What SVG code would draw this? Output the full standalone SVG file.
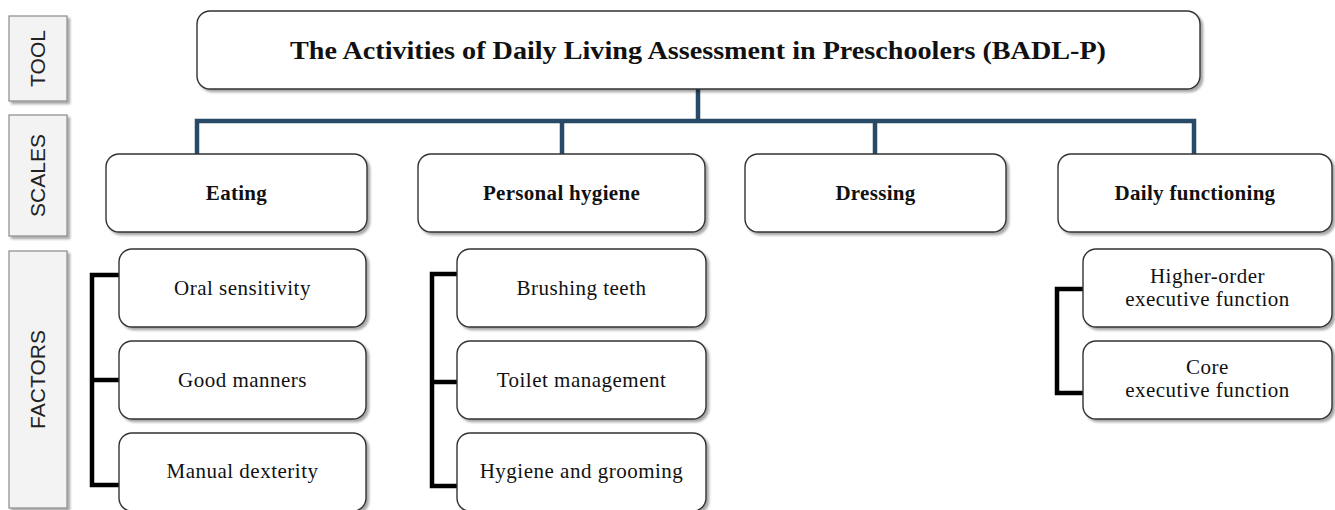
<svg xmlns="http://www.w3.org/2000/svg" width="1335" height="510" viewBox="0 0 1335 510">
<defs>
<filter id="sh" x="-5%" y="-5%" width="115%" height="120%">
<feDropShadow dx="2.5" dy="2.5" stdDeviation="1" flood-color="#000" flood-opacity="0.35"/>
</filter>
</defs>
<style>
.lab rect{fill:#f3f3f3;stroke:#8a8a8a;stroke-width:1.2;filter:url(#sh)}
.lab text{font-family:"Liberation Sans",Arial,sans-serif;font-size:21px;fill:#222;text-anchor:middle}
.box rect{fill:#fff;stroke:#333;stroke-width:1.4;filter:url(#sh)}
.box text{font-family:"Liberation Serif","Times New Roman",serif;fill:#111;text-anchor:middle}
.title text{font-size:26px;font-weight:bold}
.scale text{font-size:21px;font-weight:bold;letter-spacing:0.3px}
.factor text{font-size:21px;letter-spacing:0.5px}
.blue{fill:none;stroke:#284a66;stroke-width:4.5}
.blk{fill:none;stroke:#000;stroke-width:4.5}
</style>
<g id="labels" class="lab">
<g id="lab-tool"><rect x="9" y="16" width="58" height="85"/><text transform="translate(45 58.5) rotate(-90)">TOOL</text></g>
<g id="lab-scales"><rect x="9" y="115" width="58" height="121"/><text transform="translate(45 175.5) rotate(-90)">SCALES</text></g>
<g id="lab-factors"><rect x="9" y="251" width="58" height="257"/><text transform="translate(45 379.5) rotate(-90)">FACTORS</text></g>
</g>
<g id="connectors">
<path class="blue" d="M698 89V121M197 154V121H1194V154M562 121V154M875 121V154"/>
<path class="blk" d="M119 275H92V485H119M92 380H119"/>
<path class="blk" d="M457 274H432V486H457M432 382H457"/>
<path class="blk" d="M1083 289H1057V393H1083"/>
</g>
<g id="n-tool" class="box title"><rect x="197" y="11" width="1003" height="78" rx="13"/><text x="698" y="59" textLength="816" lengthAdjust="spacingAndGlyphs">The Activities of Daily Living Assessment in Preschoolers (BADL-P)</text></g>
<g id="n-eating" class="box scale"><rect x="106" y="154" width="261" height="78" rx="13"/><text x="236.5" y="200">Eating</text></g>
<g id="n-hygiene" class="box scale"><rect x="418" y="154" width="287" height="78" rx="13"/><text x="561.5" y="200">Personal hygiene</text></g>
<g id="n-dressing" class="box scale"><rect x="745" y="154" width="261" height="78" rx="13"/><text x="875.5" y="200">Dressing</text></g>
<g id="n-daily" class="box scale"><rect x="1058" y="154" width="274" height="78" rx="13"/><text x="1195" y="200">Daily functioning</text></g>
<g id="n-oral" class="box factor"><rect x="119" y="249" width="247" height="78" rx="13"/><text x="242.5" y="295">Oral sensitivity</text></g>
<g id="n-manners" class="box factor"><rect x="119" y="341" width="247" height="78" rx="13"/><text x="242.5" y="387">Good manners</text></g>
<g id="n-manual" class="box factor"><rect x="119" y="433" width="247" height="78" rx="13"/><text x="242.5" y="478">Manual dexterity</text></g>
<g id="n-teeth" class="box factor"><rect x="457" y="249" width="249" height="78" rx="13"/><text x="581.5" y="295">Brushing teeth</text></g>
<g id="n-toilet" class="box factor"><rect x="457" y="341" width="249" height="78" rx="13"/><text x="581.5" y="387">Toilet management</text></g>
<g id="n-grooming" class="box factor"><rect x="457" y="433" width="249" height="78" rx="13"/><text x="581.5" y="478">Hygiene and grooming</text></g>
<g id="n-higher" class="box factor"><rect x="1083" y="249" width="249" height="78" rx="13"/><text x="1207.5" y="283">Higher-order</text><text x="1207.5" y="306">executive function</text></g>
<g id="n-core" class="box factor"><rect x="1083" y="341" width="249" height="78" rx="13"/><text x="1207.5" y="374">Core</text><text x="1207.5" y="397">executive function</text></g>
</svg>
